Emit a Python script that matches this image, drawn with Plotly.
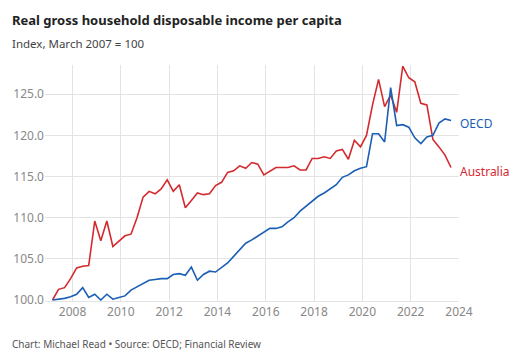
import plotly.graph_objects as go

years = [2007.17 + 0.25 * i for i in range(67)]

australia = [100.0, 101.3, 101.5, 102.6, 103.9, 104.1, 104.2, 109.6, 107.2, 109.6,
             106.5, 107.2, 107.8, 108.0, 110.0, 112.5, 113.2, 112.9, 113.5, 114.6,
             113.2, 114.0, 111.2, 112.1, 113.0, 112.8, 112.9, 113.9, 114.3, 115.5,
             115.7, 116.3, 116.0, 116.7, 116.5, 115.2, 115.6, 116.1, 116.1, 116.1,
             116.3, 115.8, 115.8, 117.2, 117.2, 117.4, 117.2, 118.1, 118.3, 117.1,
             119.4, 118.6, 120.0, 123.7, 126.8, 123.5, 124.9, 122.8, 128.4, 127.0,
             126.5, 123.9, 123.7, 119.5, 118.6, 117.6, 116.1]

oecd = [100.0, 100.1, 100.2, 100.4, 100.7, 101.5, 100.3, 100.7, 100.0, 100.7,
        100.1, 100.3, 100.5, 101.2, 101.6, 101.9, 102.4, 102.5, 102.6, 102.6,
        103.1, 103.2, 103.0, 104.0, 102.4, 103.1, 103.5, 103.4, 103.9, 104.5,
        105.3, 106.1, 106.9, 107.3, 107.8, 108.2, 108.7, 108.7, 108.9, 109.5,
        110.0, 110.8, 111.4, 112.0, 112.6, 113.0, 113.5, 114.0, 114.9, 115.2,
        115.7, 116.0, 116.2, 120.2, 120.2, 119.2, 125.8, 121.2, 121.3, 121.0,
        119.7, 119.0, 119.8, 120.0, 121.5, 122.0, 121.8]

x_ticks = [2008, 2010, 2012, 2014, 2016, 2018, 2020, 2022, 2024]
y_ticks = [100, 105, 110, 115, 120, 125]
y_tick_labels = ["100.0", "105.0", "110.0", "115.0", "120.0", "125.0"]

RED = "#d42a2f"
BLUE = "#1a5fb4"
FONT = "Noto Sans"

fig = go.Figure()
fig.add_trace(go.Scatter(x=years, y=australia, mode="lines", name="Australia",
                         line=dict(color=RED, width=1.6), hoverinfo="skip"))
fig.add_trace(go.Scatter(x=years, y=oecd, mode="lines", name="OECD",
                         line=dict(color=BLUE, width=1.6), hoverinfo="skip"))

fig.add_annotation(x=years[-1], y=oecd[-1], text="OECD", xref="x", yref="y",
                   xanchor="left", yanchor="middle", xshift=7, yshift=-3, showarrow=False,
                   font=dict(family=FONT, size=12, color=BLUE))
fig.add_annotation(x=years[-1], y=australia[-1], text="Australia", xref="x", yref="y",
                   xanchor="left", yanchor="middle", xshift=7, yshift=-4, showarrow=False,
                   font=dict(family=FONT, size=12, color=RED))

fig.add_annotation(text="<b>Real gross household disposable income per capita</b>",
                   xref="paper", yref="paper", x=-35/414, y=1 + 45/236,
                   xanchor="left", yanchor="middle", showarrow=False,
                   font=dict(family=FONT, size=13, color="#222222"))
fig.add_annotation(text="Index, March 2007 = 100",
                   xref="paper", yref="paper", x=-35/414, y=1 + 22/236,
                   xanchor="left", yanchor="middle", showarrow=False,
                   font=dict(family=FONT, size=11.5, color="#444444"))
fig.add_annotation(text="Chart: Michael Read \u2022 Source: OECD; Financial Review",
                   xref="paper", yref="paper", x=-35/414, y=-43/236,
                   xanchor="left", yanchor="middle", showarrow=False,
                   font=dict(family=FONT, size=10, color="#555555"))

fig.update_layout(
    width=520, height=360,
    margin=dict(l=45, r=61, t=65, b=59, autoexpand=False),
    paper_bgcolor="white", plot_bgcolor="white",
    showlegend=False, hovermode=False,
    font=dict(family=FONT, size=12, color="#888888"),
    xaxis=dict(range=[2006.86, 2024.0], tickvals=x_ticks,
               ticktext=[str(v) for v in x_ticks], automargin=False,
               showgrid=True, gridcolor="#e3e3e3", gridwidth=1,
               zeroline=False, showline=True, linecolor="#e3e3e3",
               ticks="", tickfont=dict(family=FONT, size=12, color="#888888")),
    yaxis=dict(range=[99.88, 128.55], tickvals=y_ticks, ticktext=y_tick_labels,
               automargin=False,
               showgrid=True, gridcolor="#e3e3e3", gridwidth=1,
               zeroline=False, showline=False, ticks="",
               tickfont=dict(family=FONT, size=12, color="#888888")),
)

fig.write_html("out.html", config={"displayModeBar": False, "staticPlot": True},
               post_script="document.body.style.margin='0';document.body.style.overflow='hidden';")
